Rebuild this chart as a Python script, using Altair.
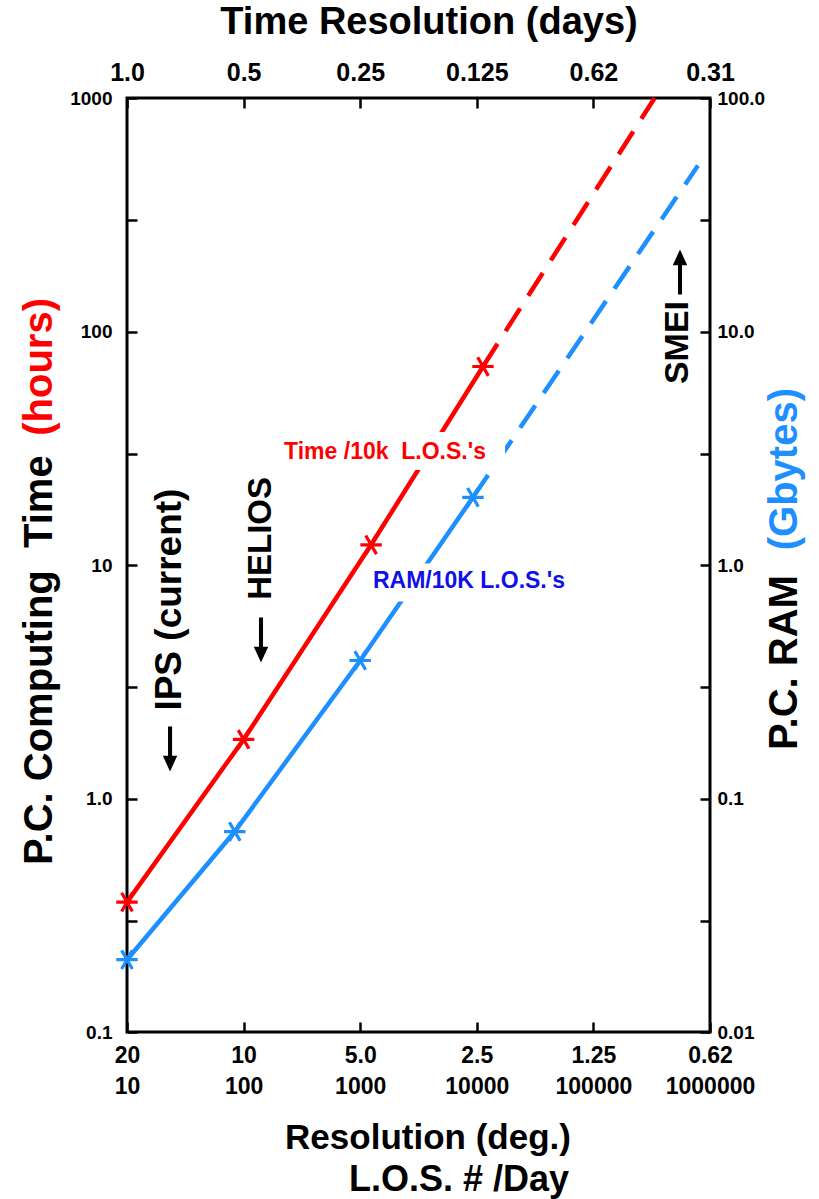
import json
import altair as alt
import pandas as pd

# ---------------- data ----------------
time_los = [10, 100, 1240, 11300]
time_hours = [0.36, 1.79, 12.2, 70.8]
time_ext_los = [11300, 335000]
time_ext_hours = [70.8, 1000]

ram_los = [10, 84, 1000, 9270]
ram_gb = [0.0204, 0.0722, 0.39, 1.95]
ram_ext_los = [9270, 789000]
ram_ext_gb = [1.95, 51.4]

los_ticks = [10, 100, 1000, 10000, 100000, 1000000]
res_labels = ["20", "10", "5.0", "2.5", "1.25", "0.62"]
los_labels = ["10", "100", "1000", "10000", "100000", "1000000"]
days_labels = ["1.0", "0.5", "0.25", "0.125", "0.62", "0.31"]

hour_ticks = [0.1, 0.3, 1, 3, 10, 30, 100, 300, 1000]
hour_labels = ["0.1", "", "1.0", "", "10", "", "100", "", "1000"]
gb_ticks = [0.01, 0.03, 0.1, 0.3, 1, 3, 10, 30, 100]
gb_labels = ["0.01", "", "0.1", "", "1.0", "", "10.0", "", "100.0"]

# annotations inside the plot (data coordinates: L.O.S./day, hours)
ann_text = ["Time /10k\u00a0\u00a0L.O.S.'s", "RAM/10K L.O.S.'s", "IPS (current)", "HELIOS", "SMEI"]
ann_los = [1633, 8570, 23.4, 141, 531600]
ann_hours = [30.6, 8.5, 7.11, 13.0, 89.7]
ann_angle = [0, 0, 270, 270, 270]
ann_size = [23, 23, 37, 33, 34]
ann_color = ["#FF0000", "#1010E8", "#000000", "#000000", "#000000"]

# white label boxes behind the two line labels (data coordinates)
box_los1 = [190, 1213]
box_los2 = [17460, 60500]
box_hours_mid = [30.8, 8.41]

# arrows next to the rotated labels (data coordinates)
arrow_los = [23.4, 141, 553000]
arrow_hours = [1.63, 4.77, 179.8]
arrow_dir = ["down", "down", "up"]

RED = "#FF0000"
BLUE = "#1E8FFF"
BOX = "#FFFFFF"
FONT = "Liberation Sans, Arial, Helvetica, sans-serif"
STAR = "M-1,0L1,0M-0.5,-0.87L0.5,0.87M-0.5,0.87L0.5,-0.87"
ARROW = {
    "down": "M-0.09,-1L0.09,-1L0.09,0.3L0.32,0.3L0,1L-0.32,0.3L-0.09,0.3Z",
    "up": "M-0.09,1L0.09,1L0.09,-0.3L0.32,-0.3L0,-1L-0.32,-0.3L-0.09,-0.3Z",
}
DASH = [27, 15]

W, H = 583, 934

X_SCALE = alt.Scale(type="log", domain=[10, 1000000], nice=False)
Y_T = alt.Scale(type="log", domain=[0.1, 1000], nice=False)
Y_R = alt.Scale(type="log", domain=[0.01, 100], nice=False)


def expr(ticks, labels):
    return f"{json.dumps(labels)}[indexof({json.dumps(ticks)}, datum.value)]"


common = dict(domain=False, grid=False, offset=-10, tickSize=10, tickWidth=2.5,
              tickColor="black", labelFont=FONT, labelFontWeight="bold",
              labelColor="black", title=None, labelOverlap=False, labelBound=False)

bottom_axis = alt.Axis(orient="bottom", values=los_ticks,
                       labelExpr=expr(los_ticks, [[a, b] for a, b in zip(res_labels, los_labels)]),
                       labelPadding=12, labelLineHeight=31, labelBaseline="top",
                       labelFontSize=23, labelFlush=False, **common)
top_axis = alt.Axis(orient="top", values=los_ticks, labelExpr=expr(los_ticks, days_labels),
                    labelPadding=13, labelFontSize=25, labelFlush=False, **common)
left_axis = alt.Axis(orient="left", values=hour_ticks, labelExpr=expr(hour_ticks, hour_labels),
                     labelPadding=15, labelFontSize=19, **common)
right_axis = alt.Axis(orient="right", values=gb_ticks, labelExpr=expr(gb_ticks, gb_labels),
                      labelPadding=7, labelFontSize=19, **common)

t_df = pd.DataFrame({"los": time_los, "hours": time_hours})
te_df = pd.DataFrame({"los": time_ext_los, "hours": time_ext_hours})
r_df = pd.DataFrame({"los": ram_los, "gb": ram_gb})
re_df = pd.DataFrame({"los": ram_ext_los, "gb": ram_ext_gb})
box_df = pd.DataFrame({"los": box_los1, "los2": box_los2, "hours": box_hours_mid})

xn = alt.X("los:Q", scale=X_SCALE, axis=None)
yt = alt.Y("hours:Q", scale=Y_T, axis=None)
yr = alt.Y("gb:Q", scale=Y_R, axis=None)

time_solid = alt.Chart(t_df).mark_line(color=RED, strokeWidth=4.5, strokeCap="butt").encode(
    x=alt.X("los:Q", scale=X_SCALE, axis=bottom_axis),
    y=alt.Y("hours:Q", scale=Y_T, axis=left_axis))
time_dash = alt.Chart(te_df).mark_line(color=RED, strokeWidth=4.5, strokeDash=DASH,
                                       strokeCap="butt").encode(
    x=alt.X("los:Q", scale=X_SCALE, axis=top_axis), y=yt)
time_pts = alt.Chart(t_df).mark_point(shape=STAR, size=460, filled=False, strokeWidth=3.2,
                                      color=RED, opacity=1).encode(x=xn, y=yt)

ram_solid = alt.Chart(r_df).mark_line(color=BLUE, strokeWidth=4.5, strokeCap="butt").encode(
    x=xn, y=alt.Y("gb:Q", scale=Y_R, axis=right_axis))
ram_dash = alt.Chart(re_df).mark_line(color=BLUE, strokeWidth=4.5, strokeDash=DASH,
                                      strokeCap="butt").encode(x=xn, y=yr)
ram_pts = alt.Chart(r_df).mark_point(shape=STAR, size=460, filled=False, strokeWidth=3.2,
                                     color=BLUE, opacity=1).encode(x=xn, y=yr)

boxes = alt.Chart(box_df).mark_rule(color=BOX, strokeWidth=38, strokeCap="butt",
                                    opacity=1).encode(x=xn, x2="los2:Q", y=yt)

layers = [time_solid, time_dash, ram_solid, ram_dash, time_pts, ram_pts, boxes]

for i in range(len(ann_text)):
    d = pd.DataFrame({"los": [ann_los[i]], "hours": [ann_hours[i]]})
    layers.append(alt.Chart(d).mark_text(
        text=ann_text[i], font=FONT, fontSize=ann_size[i], fontWeight="bold",
        angle=ann_angle[i], align="center", baseline="middle", color=ann_color[i]
    ).encode(x=xn, y=yt))

for i in range(len(arrow_los)):
    d = pd.DataFrame({"los": [arrow_los[i]], "hours": [arrow_hours[i]]})
    layers.append(alt.Chart(d).mark_point(shape=ARROW[arrow_dir[i]], size=2025, filled=True,
                                          color="black", opacity=1, strokeWidth=0
                                          ).encode(x=xn, y=yt))

one = pd.DataFrame({"a": [0]})


def label(txt, x, y, size, color="black", angle=0, align="center", weight="bold"):
    return alt.Chart(one).mark_text(text=txt, font=FONT, fontSize=size, fontWeight=weight,
                                    color=color, angle=angle, align=align,
                                    baseline="middle").encode(x=alt.value(x), y=alt.value(y))


layers += [
    label("Time Resolution (days)", 302, -75, 38),
    label("Resolution (deg.)", 301, 1040, 35),
    label("L.O.S. # /Day", 332, 1082, 36),
    label("P.C. Computing\u00a0\u00a0Time", -87, 767, 40, angle=270, align="left"),
    label("(hours)", -87, 200, 40, color=RED, angle=270, align="right"),
    label("P.C. RAM", 658, 652, 40, angle=270, align="left"),
    label("(Gbytes)", 658, 290, 40, color=BLUE, angle=270, align="right"),
]

chart = alt.layer(*layers).resolve_scale(y="independent").resolve_axis(
    x="independent", y="independent"
).properties(
    width=W, height=H,
    autosize=alt.AutoSizeParams(type="none"),
    padding={"left": 127, "top": 98, "right": 109, "bottom": 167},
    background="white",
).configure_view(stroke="black", strokeWidth=3)

chart.save("out.html", embed_options={"renderer": "svg", "actions": False})
